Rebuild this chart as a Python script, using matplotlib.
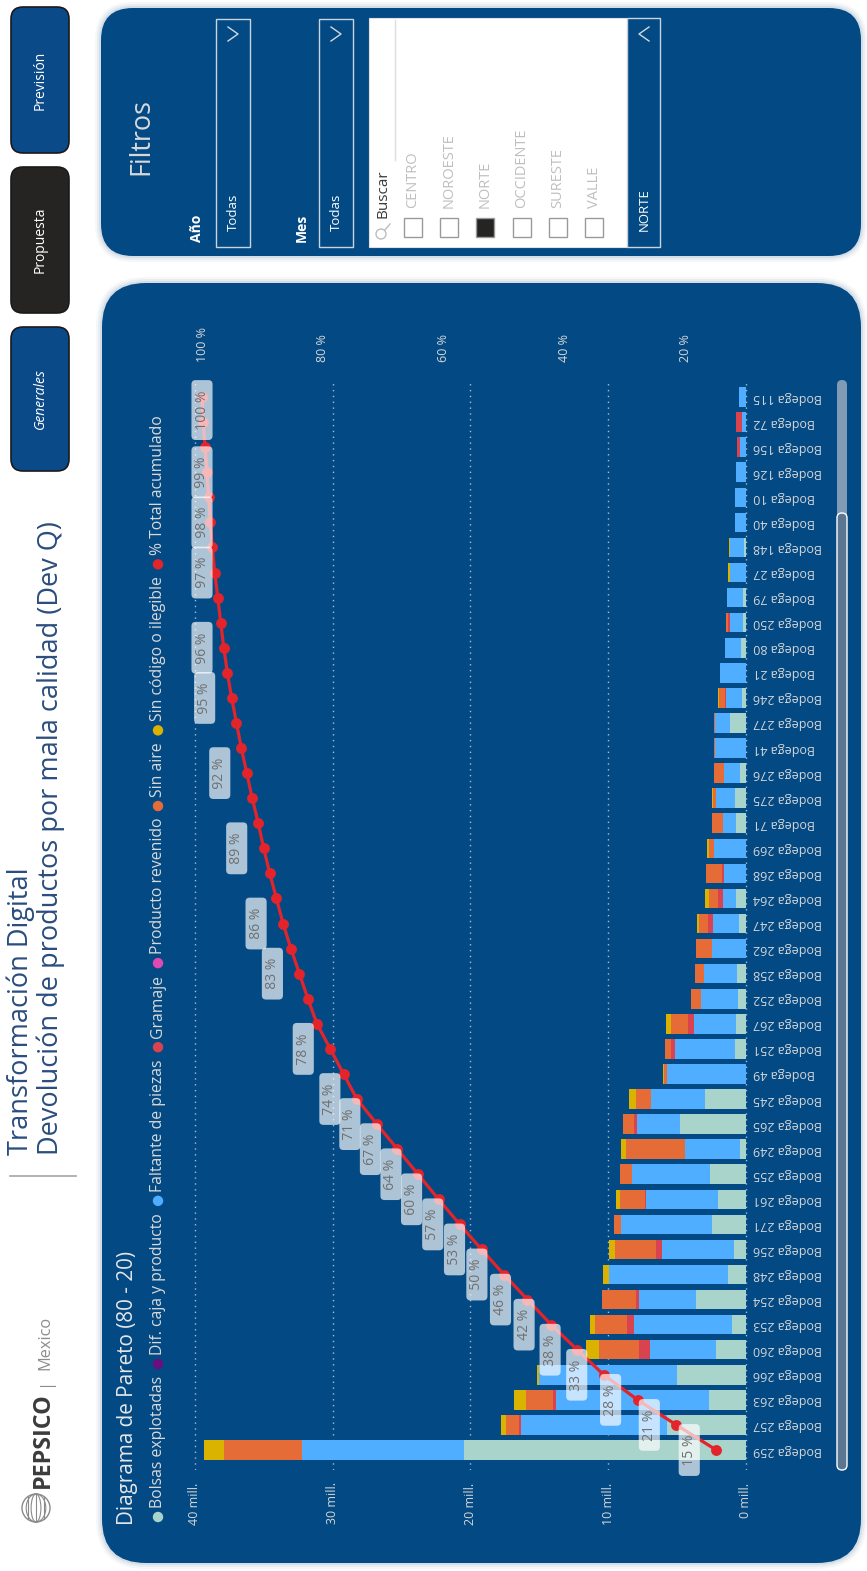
import matplotlib
matplotlib.use("Agg")
import matplotlib.pyplot as plt
from matplotlib.patches import FancyBboxPatch, Rectangle, Circle, Ellipse
import numpy as np

plt.rcParams['font.family'] = ['Open Sans', 'DejaVu Sans']

# ---- data, pareto order (largest first), values in millions ----
bodegas = ["Bodega 259", "Bodega 257", "Bodega 263", "Bodega 266", "Bodega 260",
           "Bodega 253", "Bodega 254", "Bodega 248", "Bodega 256", "Bodega 271",
           "Bodega 261", "Bodega 255", "Bodega 249", "Bodega 265", "Bodega 245",
           "Bodega 49", "Bodega 251", "Bodega 267", "Bodega 252", "Bodega 258",
           "Bodega 262", "Bodega 247", "Bodega 264", "Bodega 268", "Bodega 269",
           "Bodega 71", "Bodega 275", "Bodega 276", "Bodega 41", "Bodega 277",
           "Bodega 246", "Bodega 21", "Bodega 80", "Bodega 250", "Bodega 79",
           "Bodega 27", "Bodega 148", "Bodega 40", "Bodega 10", "Bodega 126",
           "Bodega 156", "Bodega 72", "Bodega 115"]

bolsas = [20.5, 5.7, 2.66, 5.0, 2.2, 1.0, 3.6, 1.3, 0.85, 2.45,
          2.0, 2.63, 0.43, 4.76, 2.95, 0, 0.78, 0.71, 0.57, 0.64,
          0, 0.5, 0.71, 0, 0, 0.71, 0.78, 0.43, 0, 1.17,
          0.28, 0, 0.35, 0.2, 0.25, 0, 0.18, 0, 0, 0,
          0, 0, 0]
dif_caja = [0] * 43
faltante = [11.7, 10.6, 11.14, 10.0, 4.8, 7.16, 4.2, 8.64, 5.25, 6.6,
            5.24, 5.64, 3.97, 3.14, 3.97, 5.75, 4.37, 3.09, 2.73, 2.41,
            2.48, 1.91, 0.99, 1.6, 2.31, 0.99, 1.42, 1.17, 2.24, 1.07,
            1.14, 1.92, 1.21, 0.97, 1.13, 1.17, 0.96, 0.78, 0.78, 0.75,
            0.43, 0.28, 0.53]
gramaje = [0, 0.15, 0.18, 0, 0.74, 0.47, 0.2, 0, 0.4, 0,
           0.1, 0, 0, 0.23, 0, 0, 0.28, 0.39, 0, 0,
           0, 0.32, 0.32, 0.17, 0, 0, 0, 0, 0, 0,
           0.14, 0, 0, 0.1, 0, 0, 0, 0, 0, 0,
           0.24, 0.43, 0]
revenido = [0] * 43
sin_aire = [5.7, 0.95, 2.02, 0, 2.91, 2.3, 2.47, 0, 3.0, 0.53,
            1.78, 0.89, 4.3, 0.82, 1.08, 0.2, 0.43, 1.24, 0.68, 0.68,
            1.14, 0.68, 0.68, 1.14, 0.35, 0.78, 0.18, 0.74, 0.1, 0.06,
            0.43, 0, 0, 0.15, 0, 0, 0, 0, 0, 0,
            0, 0, 0]
sin_codigo = [1.4, 0.35, 0.8, 0.15, 0.95, 0.36, 0, 0.46, 0.44, 0,
              0.32, 0, 0.4, 0, 0.5, 0.1, 0, 0.36, 0, 0,
              0, 0.14, 0.28, 0, 0.14, 0, 0.1, 0, 0, 0,
              0.07, 0, 0, 0, 0, 0.1, 0.1, 0, 0, 0,
              0, 0, 0]
acumulado = [15.0, 21.6, 28.0, 33.6, 38.0, 42.3, 46.2, 50.1, 53.8, 57.4,
             60.9, 64.3, 67.7, 71.1, 74.4, 76.6, 78.8, 81.0, 82.5, 83.9,
             85.3, 86.6, 87.7, 88.8, 89.8, 90.7, 91.7, 92.6, 93.5, 94.3,
             95.1, 95.8, 96.4, 96.9, 97.4, 97.9, 98.3, 98.6, 98.9, 99.2,
             99.5, 99.8, 100.0]
# points that carry a data label
etiquetas = [0, 1, 2, 3, 4, 5, 6, 7, 8, 9, 10, 11, 12, 13, 14,
             16, 19, 21, 24, 27, 30, 32, 35, 37, 39, 42]

mill_ticks = [0, 10, 20, 30, 40]
pct_ticks = [20, 40, 60, 80, 100]
regiones = ["CENTRO", "NOROESTE", "NORTE", "OCCIDENTE", "SURESTE", "VALLE"]

series = [("Bolsas explotadas", bolsas, "#A8D4CC"),
          ("Dif. caja y producto", dif_caja, "#6B0E80"),
          ("Faltante de piezas", faltante, "#4FAEFF"),
          ("Gramaje", gramaje, "#D9434F"),
          ("Producto revenido", revenido, "#E048B2"),
          ("Sin aire", sin_aire, "#E66C37"),
          ("Sin código o ilegible", sin_codigo, "#D9B300")]
line_color = "#E3242B"

PANEL = "#034A85"
W, H = 867, 1571
fig = plt.figure(figsize=(W / 100, H / 100), dpi=100)
fig.patch.set_facecolor("white")
bg = fig.add_axes([0, 0, 1, 1])
bg.set_xlim(0, W)
bg.set_ylim(H, 0)
bg.axis("off")
renderer = fig.canvas.get_renderer()


def panel(x0, y0, x1, y1, r, fc, ec="none", lw=0, shadow=False):
    if shadow:
        for k, a in [(6, 0.10), (4, 0.15), (2, 0.25)]:
            bg.add_patch(FancyBboxPatch((x0 - k, y0 - k), x1 - x0 + 2 * k, y1 - y0 + 2 * k,
                                        boxstyle=f"round,pad=0,rounding_size={r + k}",
                                        fc="#9FB4C8", ec="none", alpha=a))
    bg.add_patch(FancyBboxPatch((x0, y0), x1 - x0, y1 - y0,
                                boxstyle=f"round,pad=0,rounding_size={r}",
                                fc=fc, ec=ec, lw=lw))


def vtext(x, y, s, **kw):
    kw.setdefault("rotation", 90)
    kw.setdefault("ha", "center")
    kw.setdefault("va", "center")
    return bg.text(x, y, s, **kw)


def fit_vtext(x, y0, y1, s, **kw):
    # text reading upward from y0 to y1
    t = vtext(x, y0, s, va="bottom", **kw)
    ext = t.get_window_extent(renderer)
    t.set_fontsize(t.get_fontsize() * (y0 - y1) / ext.height)
    return t


# ---- nav buttons ----
for (y0, y1, lab, fc) in [(7, 153, "Previsión", "#0B4A88"),
                          (167, 313, "Propuesta", "#252423"),
                          (327, 471, "Generales", "#0B4A88")]:
    panel(11, y0, 69, y1, 12, fc, ec="#1A1A1A", lw=1.2)
    vtext(40, (y0 + y1) / 2, lab, color="white", fontsize=10,
          style="italic" if lab == "Generales" else "normal")

# ---- header ----
fit_vtext(21, 1155, 868, "Transformación Digital", color="#2A4D7E", fontsize=16)
fit_vtext(51, 1155, 522, "Devolución de productos por mala calidad (Dev Q)",
          color="#2A4D7E", fontsize=16)
bg.plot([10, 76], [1176, 1176], color="#A6A6A6", lw=1.2)
fit_vtext(45, 1370, 1316, "Mexico", color="#8C8C8C", fontsize=12)
vtext(45, 1381, "|", color="#8C8C8C", fontsize=12)
fit_vtext(43, 1488, 1393, "PEPSICO", color="#3B3B3B", fontsize=13, weight="bold")
gx, gy, gr = 36, 1508, 14
bg.add_patch(Circle((gx, gy), gr, fc="white", ec="#8A8A8A", lw=1.0))
for w in [0.35, 0.7]:
    bg.add_patch(Ellipse((gx, gy), 2 * gr * w, 2 * gr, fc="none", ec="#8A8A8A", lw=0.8))
for d in [-8, 0, 8]:
    half = np.sqrt(gr ** 2 - d ** 2)
    bg.plot([gx + d, gx + d], [gy - half, gy + half], color="#8A8A8A", lw=0.8)

# ---- filter panel ----
panel(101, 8, 861, 256, 32, PANEL, shadow=True)
fit_vtext(141, 175, 98, "Filtros", color="#D9D9D9", fontsize=16)
vtext(197, 242, "Año", color="white", fontsize=10, weight="bold", va="bottom")
vtext(302, 242, "Mes", color="white", fontsize=10, weight="bold", va="bottom")
for bx in [216, 319]:
    bg.add_patch(Rectangle((bx, 19), 34, 228, fc="none", ec="#C9D3DE", lw=1))
    vtext(bx + 17, 231, "Todas", color="white", fontsize=9.5, va="bottom")
    bg.plot([bx + 12, bx + 22, bx + 12], [27, 34, 41], color="#D0D8E0", lw=1)
# list box
bg.add_patch(Rectangle((369, 18), 258, 229, fc="white", ec="#E0E0E0", lw=0.8))
bg.plot([395, 395], [20, 160], color="#DCDCDC", lw=1)
bg.add_patch(Circle((381, 234), 5, fc="none", ec="#BDBDBD", lw=1))
bg.plot([385, 390], [230, 224], color="#BDBDBD", lw=1)
vtext(383, 218, "Buscar", color="#3A3A3A", fontsize=11, va="bottom")
for k, reg in enumerate(regiones):
    cx = 413 + k * 36.2
    sel = reg == "NORTE"
    bg.add_patch(Rectangle((cx - 9, 218), 18, 19, fc="#252423" if sel else "white",
                           ec="#9A9A9A", lw=1))
    vtext(cx, 208, reg, color="#BFBFBF", fontsize=10.5, va="bottom")
bg.add_patch(Rectangle((627, 18), 33, 229, fc=PANEL, ec="#C9D3DE", lw=1))
vtext(644, 231, "NORTE", color="white", fontsize=9.5, va="bottom")
bg.plot([649, 639, 649], [27, 34, 41], color="#D0D8E0", lw=1)

# ---- chart panel ----
panel(102, 283, 861, 1563, 44, PANEL, shadow=True)
fit_vtext(127, 1525, 1252, "Diagrama de Pareto (80 - 20)", color="#E6E6E6", fontsize=13)

# legend laid out upward along the panel
leg_items = [(n, c) for n, _, c in series] + [("% Total acumulado", line_color)]
leg_x, y_start, y_end = 158, 1517, 415
texts = [vtext(leg_x, 0, n, color="#D9D9D9", fontsize=10, va="bottom") for n, _ in leg_items]
lens = [t.get_window_extent(renderer).height for t in texts]
gap_m, gap_t = 9, 12
scale = (y_start - y_end - len(leg_items) * gap_m - (len(leg_items) - 1) * gap_t) / sum(lens)
y = y_start
for (n, c), t, l in zip(leg_items, texts, lens):
    bg.add_patch(Circle((leg_x, y), 5.2, fc=c, ec="none"))
    t.set_fontsize(10 * scale)
    t.set_y(y - gap_m)
    y = y - gap_m - l * scale - gap_t

# scrollbar
bg.add_patch(FancyBboxPatch((837, 380), 10, 140, boxstyle="round,pad=0,rounding_size=5",
                            fc="#7F9BB6", ec="none"))
bg.add_patch(FancyBboxPatch((837, 513), 10, 957, boxstyle="round,pad=0,rounding_size=5",
                            fc="#5A7691", ec="white", lw=1))

# ---- main chart axes (pixel layout) ----
L, R, T, B = 180, 750, 380, 1470
ax = fig.add_axes([L / W, 1 - B / H, (R - L) / W, (B - T) / H])
ax.patch.set_alpha(0)
ax.set_xlim((746 - L) / 13.78, (746 - R) / 13.78)
ax.set_ylim((1450 - B) / 25.07, (1450 - T) / 25.07)
yy = np.arange(len(bodegas))
left = np.zeros(len(bodegas))
for name, vals, col in series:
    vals = np.array(vals, dtype=float)
    ax.barh(yy, vals, left=left, height=0.78, color=col, lw=0, zorder=2)
    left += vals
ax.set_xticks(mill_ticks)
ax.set_xticklabels([f"{v} mill." for v in mill_ticks])
ax.grid(axis="x", color="#A9BBCD", linestyle=(0, (1, 3.2)), lw=1, zorder=0)
ax.set_yticks(yy)
ax.set_yticklabels(bodegas)
ax.yaxis.tick_right()
ax.tick_params(axis="y", length=0, pad=2, labelsize=9, labelcolor="#D6D6D6")
for t in ax.get_yticklabels():
    t.set_rotation(180)
    t.set_ha("left")
    t.set_va("center")
ax.tick_params(axis="x", length=0, pad=9, labelsize=9, labelcolor="#D6D6D6",
               labelrotation=90)
for s in ax.spines.values():
    s.set_visible(False)

ax2 = ax.twiny()
PCT0, PX_PER_PCT = 807, 6.05
ax2.set_xlim((PCT0 - L) / PX_PER_PCT, (PCT0 - R) / PX_PER_PCT)
ax2.set_xticks(pct_ticks)
ax2.set_xticklabels([f"{v} %" for v in pct_ticks])
ax2.tick_params(axis="x", length=0, pad=13, labelsize=9, labelcolor="#D6D6D6",
                labelrotation=90)
for s in ax2.spines.values():
    s.set_visible(False)
ax2.plot(acumulado, yy, color=line_color, lw=2.3, marker="o", ms=6.8, zorder=3,
         clip_on=False)

# data labels: box sits left of the point, but never beyond the plot's left edge
box_w, box_gap, box_min = 24, 15, 190
for i in etiquetas:
    px = PCT0 - acumulado[i] * PX_PER_PCT
    box_left = max(box_min, px - box_gap - box_w)
    dx = box_left + box_w / 2 - px
    dy = -13 if i == len(acumulado) - 1 else 0
    ax2.annotate(f"  {int(acumulado[i])} %  ", xy=(acumulado[i], i), xytext=(dx, dy),
                 textcoords="offset pixels", rotation=90, ha="center", va="center",
                 fontsize=10, color="#6F6F6F", zorder=4, annotation_clip=False,
                 bbox=dict(boxstyle="round,pad=0.22,rounding_size=0.3", fc="white",
                           ec="none", alpha=0.68))

fig.savefig("out.png", dpi=100)
